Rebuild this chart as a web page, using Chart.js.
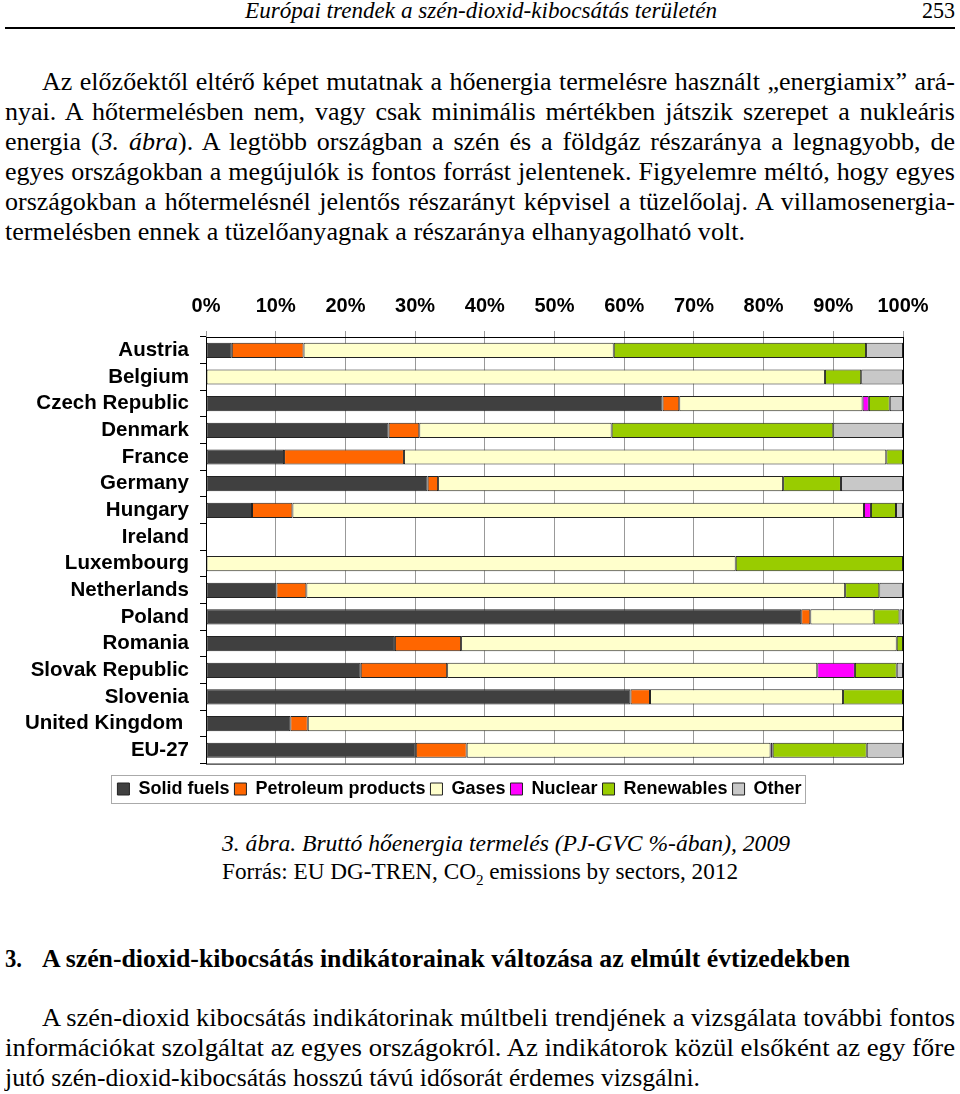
<!DOCTYPE html>
<html>
<head>
<meta charset="utf-8">
<script src="https://cdn.jsdelivr.net/npm/chart.js@4.4.1/dist/chart.umd.min.js"></script>
<style>
body{margin:0;background:#fff;width:960px;height:1094px;position:relative;overflow:hidden;font-family:"Liberation Serif","Times New Roman",serif;color:#000}
.ln{position:absolute;white-space:nowrap;font-size:26px;line-height:1;transform-origin:0 0}
.it{font-style:italic}
.bd{font-weight:bold}
#rule{position:absolute;left:5px;top:27px;width:950px;height:2px;background:#000}
#box{position:absolute;left:0;top:285px;width:960px;height:525px}
</style>
</head>
<body>
<div class="ln it" style="font-size:24px" data-x="245" data-b="18" data-w="472" data-m="s">Európai trendek a szén-dioxid-kibocsátás területén</div>
<div class="ln" style="font-size:24px" data-x="922" data-b="18" data-w="33" data-m="s">253</div>
<div id="rule"></div>

<div class="ln" data-x="42" data-b="91" data-w="913" data-m="j">Az előzőektől eltérő képet mutatnak a hőenergia termelésre használt „energiamix” ará-</div>
<div class="ln" data-x="5" data-b="121" data-w="950" data-m="j">nyai. A hőtermelésben nem, vagy csak minimális mértékben játszik szerepet a nukleáris</div>
<div class="ln" data-x="5" data-b="151" data-w="950" data-m="j">energia (<i>3. ábra</i>). A legtöbb országban a szén és a földgáz részaránya a legnagyobb, de</div>
<div class="ln" data-x="5" data-b="181" data-w="950" data-m="j">egyes országokban a megújulók is fontos forrást jelentenek. Figyelemre méltó, hogy egyes</div>
<div class="ln" data-x="5" data-b="211" data-w="950" data-m="j">országokban a hőtermelésnél jelentős részarányt képvisel a tüzelőolaj. A villamosenergia-</div>
<div class="ln" data-x="5" data-b="241" data-w="740" data-m="s">termelésben ennek a tüzelőanyagnak a részaránya elhanyagolható volt.</div>

<div id="box"><canvas id="chart"></canvas></div>

<div class="ln it" style="font-size:23px" data-x="222" data-b="851" data-w="568" data-m="s">3. ábra. Bruttó hőenergia termelés (PJ-GVC %-ában), 2009</div>
<div class="ln" style="font-size:23px" data-x="222" data-b="879" data-w="516" data-m="s">Forrás: EU DG-TREN, CO<sub style="font-size:15px">2</sub> emissions by sectors, 2012</div>

<div class="ln bd" style="font-size:25px" data-x="5" data-b="967" data-w="17" data-m="s">3.</div>
<div class="ln bd" style="font-size:25px" data-x="42" data-b="967" data-w="808" data-m="s">A szén-dioxid-kibocsátás indikátorainak változása az elmúlt évtizedekben</div>

<div class="ln" data-x="42" data-b="1027" data-w="913" data-m="s">A szén-dioxid kibocsátás indikátorinak múltbeli trendjének a vizsgálata további fontos</div>
<div class="ln" data-x="5" data-b="1057" data-w="950" data-m="s">információkat szolgáltat az egyes országokról. Az indikátorok közül elsőként az egy főre</div>
<div class="ln" data-x="5" data-b="1087" data-w="695" data-m="s">jutó szén-dioxid-kibocsátás hosszú távú idősorát érdemes vizsgálni.</div>

<script>
const countries = ['Austria', 'Belgium', 'Czech Republic', 'Denmark', 'France', 'Germany', 'Hungary', 'Ireland',
    'Luxembourg', 'Netherlands', 'Poland', 'Romania', 'Slovak Republic', 'Slovenia', 'United Kingdom ', 'EU-27'];

// shares in %, Ireland has no data
const solidFuels  = [3.7, 0, 65.5, 26.2, 11.2, 31.8, 6.6, null, 0, 10.1, 85.4, 27.1, 22.2, 60.9, 12.1, 30.1];
const petroleum   = [10.3, 0, 2.4, 4.4, 17.2, 1.5, 5.8, null, 0, 4.3, 1.3, 9.5, 12.4, 2.8, 2.5, 7.3];
const gases       = [44.5, 88.8, 26.3, 27.6, 69.2, 49.5, 82.0, null, 76.0, 77.3, 9.1, 62.5, 53.1, 27.7, 85.4, 43.6];
const nuclear     = [0, 0, 0.9, 0, 0, 0, 1.0, null, 0, 0, 0, 0, 5.4, 0, 0, 0.3];
const renewables  = [36.2, 5.2, 3.0, 31.8, 2.4, 8.3, 3.6, null, 24.0, 4.9, 3.7, 0.9, 6.0, 8.6, 0, 13.5];
const other       = [5.3, 6.0, 1.9, 10.0, 0, 8.9, 1.0, null, 0, 3.4, 0.5, 0, 0.9, 0, 0, 5.2];

const seriesNames = ['Solid fuels', 'Petroleum products', 'Gases', 'Nuclear', 'Renewables', 'Other'];
const seriesData = [solidFuels, petroleum, gases, nuclear, renewables, other];
const seriesColors = ['#404040', '#ff6600', '#ffffcc', '#ff00ff', '#99cc00', '#c8c8c8'];

// text lines: place on baseline, stretch to the printed width
document.querySelectorAll('.ln').forEach(el => {
    const fs = parseFloat(getComputedStyle(el).fontSize);
    el.style.left = el.dataset.x + 'px';
    el.style.top = (+el.dataset.b - 0.8375 * fs) + 'px';
    const w = +el.dataset.w;
    const nat = el.getBoundingClientRect().width;
    if (el.dataset.m === 'j') {
        const n = (el.textContent.match(/ /g) || []).length;
        el.style.wordSpacing = ((w - nat) / n) + 'px';
    } else {
        el.style.transform = 'scaleX(' + (w / nat) + ')';
    }
});

const sans = 'Liberation Sans, Arial, sans-serif';

const frame = {
    id: 'frame',
    afterDraw(chart) {
        const { ctx, chartArea: a } = chart;
        ctx.save();
        ctx.strokeStyle = '#000';
        ctx.lineWidth = 1;
        ctx.beginPath();
        ctx.moveTo(a.right + 0.5, a.top);
        ctx.lineTo(a.right + 0.5, a.bottom + 0.5);
        ctx.lineTo(a.left, a.bottom + 0.5);
        ctx.stroke();
        // box round the legend
        const hb = chart.legend.legendHitBoxes;
        if (hb && hb.length) {
            const l = Math.min(...hb.map(h => h.left)) - 6;
            const r = Math.max(...hb.map(h => h.left + h.width)) + 4;
            const cy = hb[0].top + hb[0].height / 2;
            ctx.strokeStyle = '#aaa';
            ctx.strokeRect(Math.round(l) + 0.5, Math.round(cy - 14) + 0.5, Math.round(r - l), 28);
        }
        ctx.restore();
    }
};

new Chart(document.getElementById('chart').getContext('2d'), {
    type: 'bar',
    data: {
        labels: countries,
        datasets: seriesNames.map((name, i) => ({
            label: name,
            data: seriesData[i].map(v => (v ? v : null)),
            backgroundColor: seriesColors[i],
            borderColor: '#222',
            borderWidth: 1,
            borderSkipped: false,
            barPercentage: 0.57,
            categoryPercentage: 1
        }))
    },
    options: {
        indexAxis: 'y',
        responsive: true,
        maintainAspectRatio: false,
        animation: false,
        layout: { padding: { top: 0, bottom: 2, left: 16, right: 57 } },
        plugins: {
            legend: {
                position: 'bottom',
                title: { display: true, text: ' ', padding: 0, font: { size: 9.5 } },
                labels: { boxWidth: 12, boxHeight: 12, padding: 5, color: '#000', font: { family: sans, weight: 'bold', size: 18 } }
            },
            tooltip: { enabled: false }
        },
        scales: {
            x: {
                position: 'top',
                stacked: true,
                min: 0,
                max: 100,
                ticks: { stepSize: 10, callback: v => v + '%', color: '#000', padding: 13, font: { family: sans, weight: 'bold', size: 20 } },
                grid: { color: '#999', tickColor: '#999', tickLength: 6 },
                border: { color: '#000', width: 1 },
                afterFit: s => { s.height = 52; s.paddingLeft = 0; s.paddingRight = 0; }
            },
            y: {
                stacked: true,
                ticks: { autoSkip: false, color: '#000', padding: 11, font: { family: sans, weight: 'bold', size: 20.5 } },
                grid: { drawOnChartArea: false, color: '#000', tickLength: 6, offset: true },
                border: { color: '#000', width: 1 },
                afterFit: s => { s.width = 190; }
            }
        }
    },
    plugins: [frame]
});
</script>
</body>
</html>
